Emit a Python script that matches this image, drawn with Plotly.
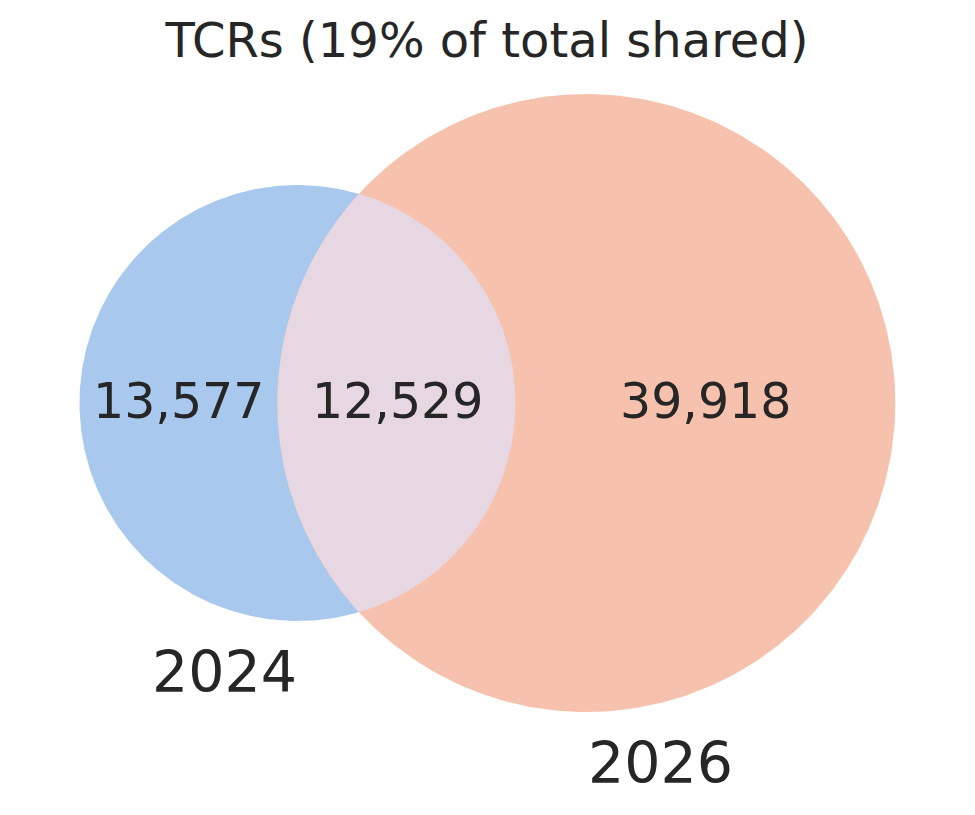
import numpy as np
import plotly.graph_objects as go

# region counts: only 2024, shared, only 2026
set_labels = ["2024", "2026"]
only_a = 13577
shared = 12529
only_b = 39918

color_a = "#a9c8ee"
color_b = "#f6c2ae"
color_ab = "#e7d7e2"
text_color = "#262626"
font = "DejaVu Sans"

total = only_a + shared + only_b
pct_shared = round(100 * shared / total)


def lens_area(r1, r2, d):
    if d >= r1 + r2:
        return 0.0
    if d <= abs(r1 - r2):
        return np.pi * min(r1, r2) ** 2
    a1 = r1 ** 2 * np.arccos((d ** 2 + r1 ** 2 - r2 ** 2) / (2 * d * r1))
    a2 = r2 ** 2 * np.arccos((d ** 2 + r2 ** 2 - r1 ** 2) / (2 * d * r2))
    a3 = 0.5 * np.sqrt((-d + r1 + r2) * (d + r1 - r2) * (d - r1 + r2) * (d + r1 + r2))
    return a1 + a2 - a3


# circle sizes proportional to set sizes, distance solved for the overlap
r_a = np.sqrt((only_a + shared) / np.pi)
r_b = np.sqrt((only_b + shared) / np.pi)
lo, hi = abs(r_a - r_b), r_a + r_b
for _ in range(100):
    mid = (lo + hi) / 2
    if lens_area(r_a, r_b, mid) > shared:
        lo = mid
    else:
        hi = mid
d = (lo + hi) / 2

# map to the page (coordinates are screen pixels; page body has an 8px margin)
scale = 218 / r_a
cx_a, cy = 297.5, 403.0
cx_b = cx_a + d * scale
R_a = r_a * scale
R_b = r_b * scale
D = d * scale


def circle(cx, cy, r, n=400):
    t = np.linspace(0, 2 * np.pi, n)
    return cx + r * np.cos(t), cy + r * np.sin(t)


# lens
a = (D ** 2 + R_a ** 2 - R_b ** 2) / (2 * D)
h = np.sqrt(R_a ** 2 - a ** 2)
th_a = np.arctan2(h, a)
th_b = np.arctan2(h, D - a)
t1 = np.linspace(-th_a, th_a, 200)
t2 = np.linspace(np.pi - th_b, np.pi + th_b, 200)
lens_x = np.concatenate([cx_a + R_a * np.cos(t1), cx_b + R_b * np.cos(t2)])
lens_y = np.concatenate([cy + R_a * np.sin(t1), cy + R_b * np.sin(t2)])

fig = go.Figure()
for (xs, ys), col in [
    (circle(cx_a, cy, R_a), color_a),
    (circle(cx_b, cy, R_b), color_b),
    ((lens_x, lens_y), color_ab),
]:
    fig.add_trace(
        go.Scatter(
            x=xs, y=ys, mode="lines", fill="toself", fillcolor=col,
            line=dict(width=0, color=col), hoverinfo="skip", showlegend=False,
        )
    )

count_pos = [(178, 401, only_a), (397, 401, shared), (705, 401, only_b)]
for x, y, v in count_pos:
    fig.add_annotation(
        x=x, y=y, text=f"{v:,}", showarrow=False,
        font=dict(family=font, size=49, color=text_color),
    )

for (x, y), lab in zip([(224, 672), (660, 763)], set_labels):
    fig.add_annotation(
        x=x, y=y, text=lab, showarrow=False,
        font=dict(family=font, size=57, color=text_color),
    )

off = 8
fig.update_layout(
    width=975,
    height=815,
    margin=dict(l=0, r=0, t=0, b=0),
    paper_bgcolor="white",
    plot_bgcolor="white",
    title=dict(
        text=f"TCRs ({pct_shared}% of total shared)",
        x=(487 - off) / 975, xanchor="center",
        y=1 - (40 - off) / 815, yanchor="middle",
        font=dict(family=font, size=48, color=text_color),
    ),
    xaxis=dict(range=[off, 975 + off], visible=False, fixedrange=True),
    yaxis=dict(range=[815 + off, off], visible=False, fixedrange=True),
)

fig.write_html("out.html")
